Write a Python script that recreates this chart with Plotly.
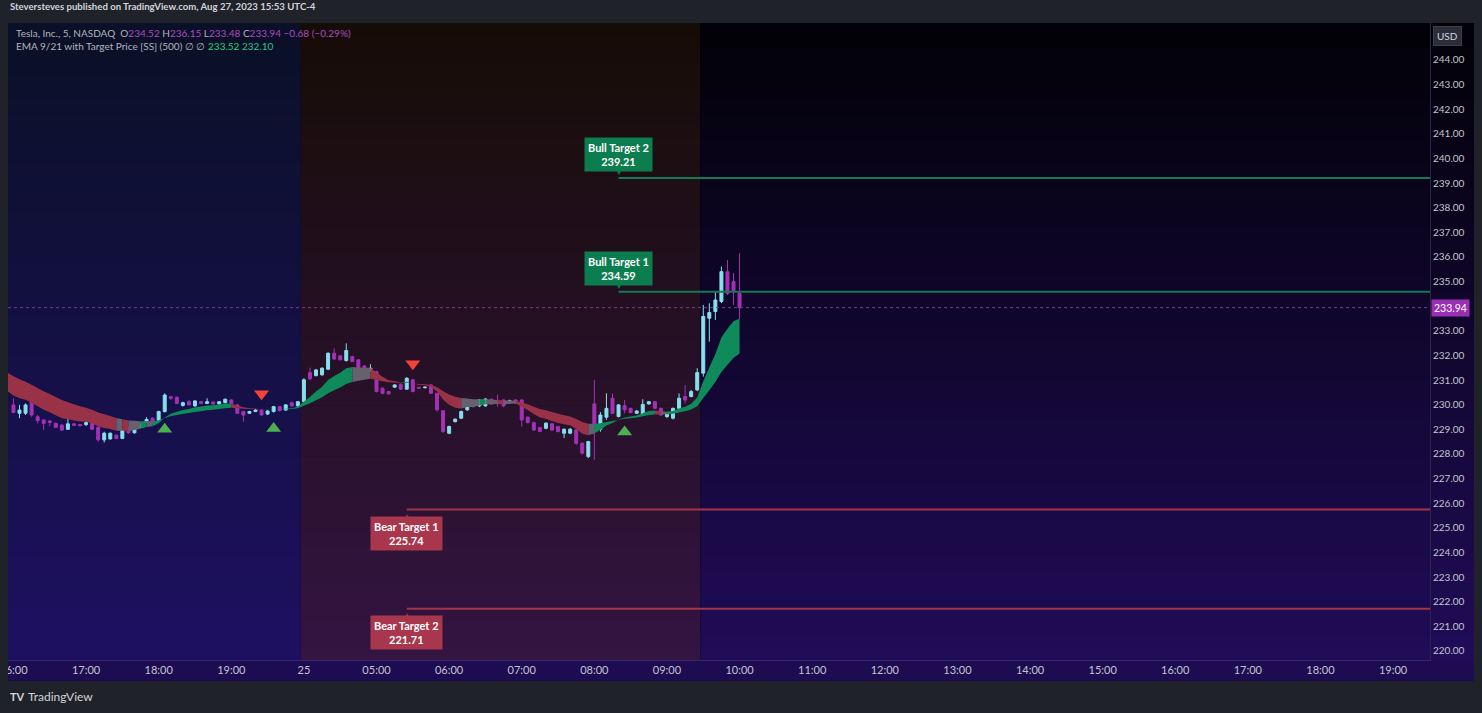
import plotly.graph_objects as go

# 5-minute TSLA bars; index 0 = Aug 24 16:00, index 48 = Aug 25 04:00
opens = [229.99, 229.65, 229.65, 230.12, 229.51, 229.38, 229.34, 229.24, 229.17, 229.00,
         229.22, 229.19, 229.19, 229.24, 229.08, 228.57, 228.61, 228.76, 228.63, 229.04,
         228.86, 229.08, 229.31, 229.45, 229.35, 229.72, 230.32, 230.30, 229.97, 230.12,
         229.95, 230.12, 230.05, 230.11, 230.03, 230.08, 230.19, 229.99, 229.72, 229.65,
         229.72, 229.78, 229.62, 229.72, 229.92, 229.78, 230.08, 229.95, 230.13, 231.30,
         231.18, 231.21, 231.44, 232.09, 231.98, 231.79, 231.95, 231.82, 231.57, 231.38,
         231.34, 230.67, 230.53, 230.71, 230.83, 230.63, 231.01, 230.70, 230.69, 230.80,
         230.46, 229.75, 228.84, 229.31, 229.45, 229.79, 230.00, 229.95, 229.95, 230.22,
         230.15, 230.19, 230.08, 230.19, 230.19, 229.49, 229.27, 229.07, 229.04, 229.22,
         229.11, 228.84, 228.84, 228.97, 228.43, 227.89, 230.03, 229.00, 229.49, 230.26,
         229.52, 229.96, 229.85, 229.65, 229.58, 230.03, 230.12, 229.85, 229.52, 229.45,
         229.85, 230.33, 230.33, 230.60, 231.28, 233.51, 233.78, 234.19, 235.40, 235.00,
         234.52]
highs = [230.26, 229.99, 230.05, 230.19, 229.58, 229.40, 229.36, 229.27, 229.20, 229.45,
         229.24, 229.21, 229.38, 229.27, 229.10, 228.90, 228.87, 228.80, 228.98, 229.10,
         229.20, 229.25, 229.49, 229.48, 229.75, 230.46, 230.35, 230.33, 230.12, 230.19,
         230.18, 230.15, 230.26, 230.13, 230.15, 230.25, 230.22, 230.02, 229.75, 229.75,
         229.82, 229.82, 229.78, 229.95, 229.95, 230.02, 230.12, 230.15, 231.07, 231.50,
         231.45, 231.52, 232.12, 232.29, 232.02, 232.49, 231.98, 231.85, 231.60, 231.64,
         231.38, 230.70, 230.56, 230.83, 230.86, 231.12, 231.05, 230.72, 230.73, 230.83,
         230.48, 229.78, 229.15, 229.44, 229.76, 230.17, 230.05, 230.22, 230.26, 230.25,
         230.40, 230.22, 230.20, 230.22, 230.22, 229.52, 229.30, 229.10, 229.28, 229.25,
         229.14, 229.03, 229.05, 229.00, 228.47, 228.53, 231.01, 229.70, 230.46, 230.46,
         230.02, 230.19, 229.88, 229.78, 230.22, 230.15, 230.15, 229.88, 229.68, 229.88,
         230.46, 230.80, 230.60, 231.48, 234.05, 234.12, 234.59, 235.61, 235.88, 235.35,
         236.15]
lows = [229.65, 229.45, 229.58, 229.51, 229.24, 228.97, 229.13, 229.05, 228.93, 228.97,
        229.13, 229.12, 229.13, 228.97, 228.50, 228.46, 228.58, 228.60, 228.60, 228.82,
        228.82, 229.05, 229.28, 229.20, 229.32, 229.68, 230.19, 230.02, 229.92, 229.96,
        229.92, 230.03, 230.03, 230.00, 230.00, 230.05, 230.02, 229.62, 229.31, 229.62,
        229.70, 229.55, 229.58, 229.68, 229.72, 229.75, 229.92, 229.92, 230.08, 231.00,
        231.15, 231.18, 231.40, 231.82, 231.80, 231.75, 231.73, 231.40, 231.42, 231.34,
        230.50, 230.42, 230.40, 230.69, 230.60, 230.60, 230.50, 230.65, 230.66, 230.44,
        229.72, 228.85, 228.80, 229.28, 229.42, 229.75, 229.88, 229.90, 229.92, 230.00,
        229.92, 229.90, 230.05, 230.03, 229.11, 229.24, 228.93, 228.88, 229.00, 228.93,
        228.87, 228.64, 228.80, 228.37, 227.98, 227.83, 227.76, 228.90, 229.38, 229.62,
        229.48, 229.65, 229.65, 229.62, 229.55, 230.00, 229.82, 229.55, 229.45, 229.40,
        229.82, 230.06, 230.30, 230.55, 231.14, 232.56, 233.44, 234.12, 234.45, 234.05,
        233.48]
closes = [229.68, 229.78, 229.99, 229.58, 229.35, 229.24, 229.28, 229.08, 228.97, 229.22,
          229.16, 229.15, 229.27, 229.00, 228.57, 228.84, 228.84, 228.63, 228.95, 228.86,
          229.17, 229.22, 229.40, 229.24, 229.72, 230.39, 230.26, 230.05, 230.08, 229.99,
          230.15, 230.05, 230.12, 230.03, 230.12, 230.22, 230.05, 229.65, 229.58, 229.72,
          229.78, 229.58, 229.74, 229.92, 229.76, 229.99, 229.95, 230.12, 231.01, 231.05,
          231.41, 231.48, 232.09, 231.85, 231.82, 232.20, 231.75, 231.44, 231.44, 231.48,
          230.53, 230.46, 230.44, 230.80, 230.63, 231.07, 230.53, 230.67, 230.71, 230.46,
          229.79, 228.91, 229.11, 229.41, 229.72, 230.13, 229.92, 230.19, 230.23, 230.03,
          230.05, 229.95, 230.16, 230.06, 229.38, 229.27, 228.97, 228.91, 229.25, 228.97,
          228.91, 229.00, 229.00, 228.43, 228.03, 228.50, 229.11, 229.58, 229.85, 229.65,
          229.99, 229.79, 229.68, 229.74, 230.01, 230.12, 229.85, 229.58, 229.65, 229.85,
          230.26, 230.19, 230.53, 231.30, 233.58, 233.74, 234.25, 235.40, 234.52, 234.62,
          233.94]

# EMA values just before the first visible bar
ema9_seed = 230.55
ema21_seed = 231.30

# session spans in bar index (post-market Aug 24, pre-market Aug 25, regular Aug 25)
session_names = ["post", "pre", "regular"]
session_start = [-1.5, 47.5, 113.5]
session_end = [47.5, 113.5, 240.0]

time_tick_pos = [0, 12, 24, 36, 48, 60, 72, 84, 96, 108, 120, 132, 144, 156, 168,
                 180, 192, 204, 216, 228]
time_tick_text = ["16:00", "17:00", "18:00", "19:00", "25", "05:00", "06:00", "07:00",
                  "08:00", "09:00", "10:00", "11:00", "12:00", "13:00", "14:00",
                  "15:00", "16:00", "17:00", "18:00", "19:00"]
price_ticks = list(range(220, 245))

bull_signal_idx = [25, 43, 101]
bull_signal_price = [229.00, 229.03, 228.89]
bear_signal_idx = [41, 66]
bear_signal_price = [230.44, 231.66]

target_names = ["Bull Target 2", "Bull Target 1", "Bear Target 1", "Bear Target 2"]
target_prices = [239.21, 234.59, 225.74, 221.71]
target_start = [100, 100, 65, 65]
target_side = ["bull", "bull", "bear", "bear"]

X_RANGE = [-0.9, 234.1]
Y_RANGE = [219.63, 245.50]
PLOT_W, PLOT_H = 1422, 637

FRAME = "#1f2229"
TEXT = "#b2b5be"
UP = "#86e0ee"
DOWN = "#a332b5"
GREEN = "#0f8a5a"
RED = "#9a3247"
GRAY = "#67606f"

gradients = {
    "post": ((10, 16, 38), (30, 16, 98)),
    "pre": ((22, 12, 6), (52, 20, 66)),
    "regular": ((2, 1, 6), (32, 12, 88)),
}


def lerp(c1, c2, t):
    return "rgb(%d,%d,%d)" % tuple(round(a + (b - a) * t) for a, b in zip(c1, c2))


def gradient_shapes(x0, x1, xref, top, bottom, steps=50):
    shapes = []
    for k in range(steps):
        t = (k + 0.5) / steps
        shapes.append(dict(
            type="rect", xref=xref, yref="paper", x0=x0, x1=x1,
            y0=1 - (k + 1) / steps - 0.001, y1=1 - k / steps,
            fillcolor=lerp(top, bottom, t), line=dict(width=0), layer="below",
        ))
    return shapes


def ema(values, seed, length):
    a = 2 / (length + 1)
    out = [seed]
    for v in values:
        out.append(out[-1] + a * (v - out[-1]))
    return out


n = len(closes)
idx = list(range(n))

e9 = ema(closes, ema9_seed, 9)
e21 = ema(closes, ema21_seed, 21)
ex = [-1] + idx

# ribbon colour per bar: green above both EMAs, red below both, gray in between
ribbon_col = [RED]
for i, c in enumerate(closes):
    if c > e9[i + 1] and c > e21[i + 1]:
        ribbon_col.append(GREEN)
    elif c < e9[i + 1] and c < e21[i + 1]:
        ribbon_col.append(RED)
    else:
        ribbon_col.append(GRAY)

fig = go.Figure()

k = 1
while k < len(ex):
    start = k
    while k + 1 < len(ex) and ribbon_col[k + 1] == ribbon_col[start]:
        k += 1
    seg = range(start - 1, k + 1)
    xs = [ex[j] for j in seg]
    fig.add_trace(go.Scatter(
        x=xs + xs[::-1],
        y=[e9[j] for j in seg] + [e21[j] for j in seg][::-1],
        fill="toself", fillcolor=ribbon_col[start], mode="none", hoverinfo="skip",
    ))
    k += 1

fig.add_trace(go.Candlestick(
    x=idx, open=opens, high=highs, low=lows, close=closes,
    increasing=dict(line=dict(color=UP, width=1), fillcolor=UP),
    decreasing=dict(line=dict(color=DOWN, width=1), fillcolor=DOWN),
    hoverinfo="skip",
))

fig.add_trace(go.Scatter(
    x=bull_signal_idx, y=bull_signal_price, mode="markers",
    marker=dict(symbol="triangle-up", size=13, color="#4caf50"),
))
fig.add_trace(go.Scatter(
    x=bear_signal_idx, y=bear_signal_price, mode="markers",
    marker=dict(symbol="triangle-down", size=13, color="#f44336"),
))

shapes = []
for name, lo, hi in zip(session_names, session_start, session_end):
    top, bottom = gradients[name]
    shapes += gradient_shapes(max(lo, X_RANGE[0]), min(hi, X_RANGE[1]), "x", top, bottom)
# price axis column and time axis strip
axis_w = 44 / PLOT_W
shapes += gradient_shapes(1, 1 + axis_w, "paper", *gradients["regular"])
shapes.append(dict(type="rect", xref="paper", yref="paper", x0=0, x1=1 + axis_w,
                   y0=-21 / PLOT_H, y1=0, fillcolor="rgb(30,12,82)",
                   line=dict(width=0), layer="below"))

annotations = []
for name, price, start, side in zip(target_names, target_prices, target_start, target_side):
    col = "#0b7d4e" if side == "bull" else "#a8364c"
    line_col = "#137a55" if side == "bull" else "#a13549"
    shapes.append(dict(type="line", xref="x", yref="y", x0=start, x1=X_RANGE[1],
                       y0=price, y1=price, line=dict(color=line_col, width=2)))
    up = side == "bull"
    annotations.append(dict(
        x=start, y=price, xref="x", yref="y", showarrow=False,
        text="<b>%s</b><br><b>%.2f</b>" % (name, price),
        font=dict(size=11, color="white"), bgcolor=col, borderpad=3,
        yanchor="bottom" if up else "top", yshift=6 if up else -6, align="center",
    ))
    annotations.append(dict(
        x=start, y=price, xref="x", yref="y", showarrow=False,
        text="▼" if up else "▲", font=dict(size=8, color=col),
        yanchor="bottom" if up else "top", yshift=-1 if up else 1,
    ))

last = closes[-1]
shapes.append(dict(type="line", xref="paper", yref="y", x0=0, x1=1, y0=last, y1=last,
                   line=dict(color="#7a3a90", width=1, dash="dot")))
# left frame strip hides the overflow of the first time label
shapes.append(dict(type="rect", xref="paper", yref="paper", x0=-8 / PLOT_W, x1=0,
                   y0=-0.2, y1=1.1, fillcolor=FRAME, line=dict(width=0), layer="above"))

annotations.append(dict(
    x=1, y=last, xref="paper", yref="y", xanchor="left", xshift=1, showarrow=False,
    text="%.2f" % last, font=dict(size=10.5, color="white"), bgcolor="#9b2fb3", borderpad=2,
))
annotations.append(dict(
    x=1, y=1, xref="paper", yref="paper", xanchor="left", yanchor="top",
    xshift=3, yshift=-3, showarrow=False, text="USD",
    font=dict(size=10, color="#d1d4dc"), bgcolor="#2a2e39", bordercolor="#3d404a",
    borderpad=3,
))

mag = "#b04ac0"
change = closes[-1] - closes[-2]
pct = change / closes[-2] * 100
line1 = (
    "Tesla, Inc., 5, NASDAQ  O<span style='color:%s'>%.2f</span> H<span style='color:%s'>%.2f</span>"
    " L<span style='color:%s'>%.2f</span> C<span style='color:%s'>%.2f</span>"
    " <span style='color:%s'>%.2f (%.2f%%)</span>"
    % (mag, opens[-1], mag, highs[-1], mag, lows[-1], mag, closes[-1], mag, change, pct)
).replace("-", "−")
line2 = ("EMA 9/21 with Target Price [SS] (500) ∅ ∅ <span style='color:#1fd67a'>233.52</span>"
         " <span style='color:#2bc38a'>232.10</span>")
annotations.append(dict(x=0, y=1, xref="paper", yref="paper", xanchor="left", yanchor="middle",
                        xshift=6, yshift=-10, showarrow=False, text=line1,
                        font=dict(size=10, color=TEXT)))
annotations.append(dict(x=0, y=1, xref="paper", yref="paper", xanchor="left", yanchor="middle",
                        xshift=6, yshift=-23, showarrow=False, text=line2,
                        font=dict(size=10, color=TEXT)))
annotations.append(dict(x=0, y=1, xref="paper", yref="paper", xanchor="left", yanchor="middle",
                        yshift=17, showarrow=False,
                        text="<b>Steversteves published on TradingView.com, Aug 27, 2023 15:53 UTC-4</b>",
                        font=dict(size=9.6, color="#d1d4dc")))
annotations.append(dict(x=0, y=0, xref="paper", yref="paper", xanchor="left", yanchor="middle",
                        yshift=-36, showarrow=False, text="<b>TV</b>",
                        font=dict(size=11, color="#d1d4dc")))
annotations.append(dict(x=0, y=0, xref="paper", yref="paper", xanchor="left", yanchor="middle",
                        xshift=18, yshift=-36, showarrow=False, text="TradingView",
                        font=dict(size=12, color="#d1d4dc")))

fig.update_layout(
    width=1482, height=713,
    margin=dict(l=8, r=52, t=23, b=53, autoexpand=False),
    paper_bgcolor=FRAME, plot_bgcolor="#000000",
    font=dict(family="Lato, sans-serif", color=TEXT, size=11),
    showlegend=False, hovermode=False,
    shapes=shapes, annotations=annotations,
)
fig.update_xaxes(
    range=X_RANGE, rangeslider_visible=False, showgrid=False, zeroline=False,
    tickvals=time_tick_pos, ticktext=time_tick_text, ticks="",
    ticklabeloverflow="allow", showline=True, linecolor="#35286a", linewidth=1,
    tickfont=dict(size=11, color="#c3c6ce"), automargin=False,
)
fig.update_yaxes(
    range=Y_RANGE, side="right", showgrid=False, zeroline=False,
    tickvals=price_ticks, ticktext=["%.2f" % p for p in price_ticks], ticks="",
    showline=True, linecolor="#2c2545", linewidth=1,
    tickfont=dict(size=10, color="#c3c6ce"), automargin=False,
)

fig.write_html(
    "out.html",
    config={"displayModeBar": False},
    post_script="document.body.style.margin='0';document.body.style.overflow='hidden';",
)
